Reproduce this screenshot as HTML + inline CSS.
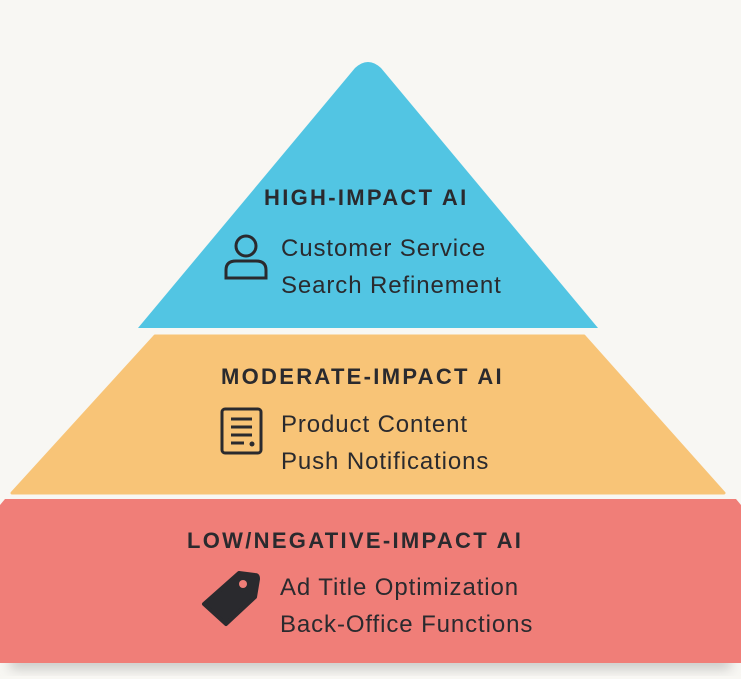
<!DOCTYPE html>
<html><head><meta charset="utf-8"><style>
html,body{margin:0;padding:0;background:#f8f7f3;}
body{width:741px;height:679px;overflow:hidden;position:relative;font-family:"Liberation Sans",sans-serif;color:#2a2a2e;}
svg{position:absolute;left:0;top:0;}
.t{position:absolute;font-weight:bold;font-size:22px;line-height:26px;white-space:nowrap;letter-spacing:2.3px;}
.i{position:absolute;font-size:24px;white-space:nowrap;line-height:37px;letter-spacing:0.9px;}
</style></head><body>
<svg width="741" height="679" viewBox="0 0 741 679">
<defs><filter id="sh" x="-10%" y="-50%" width="120%" height="200%"><feGaussianBlur stdDeviation="6"/></filter></defs>
<rect x="10" y="655" width="721" height="14" fill="#999" opacity="0.5" filter="url(#sh)"/>
<path d="M355,68 Q368,56 381,68 L598,328 L138,328 Z" fill="#52c5e3"/>
<path d="M155,336 L584,336 L724,493 L12,493 Z" fill="#f8c477" stroke="#f8c477" stroke-width="3" stroke-linejoin="round"/>
<path d="M5,499 L736,499 L741,505 L741,663 L0,663 L0,505 Z" fill="#f07e78"/>
<g fill="none" stroke="#2a2a2e" stroke-width="3">
<circle cx="246" cy="246" r="10"/>
<path d="M226,278 L226,270 Q226,261 236,261 L256,261 Q266,261 266,270 L266,278 Z"/>
</g>
<g fill="none" stroke="#2a2a2e" stroke-width="3">
<rect x="222" y="409" width="39" height="44" rx="3"/>
<path d="M231,419 H252 M231,427 H252 M231,435 H252 M231,443 H244"/>
</g>
<circle cx="252" cy="444" r="2.5" fill="#2a2a2e"/>
<path d="M239,573 L255,575 Q258,575 258,579 L255,597 L226,624 L204,604 Z" fill="#2a2a2e" stroke="#2a2a2e" stroke-width="4" stroke-linejoin="round"/>
<circle cx="243" cy="584" r="4" fill="#f07e78"/>
</svg>
<div class="t" style="left:264px;top:185px;">HIGH-IMPACT AI</div>
<div class="i" style="left:281px;top:230px;">Customer Service<br>Search Refinement</div>
<div class="t" style="left:221px;top:364px;">MODERATE-IMPACT AI</div>
<div class="i" style="left:281px;top:406px;">Product Content<br>Push Notifications</div>
<div class="t" style="left:187px;top:528px;">LOW/NEGATIVE-IMPACT AI</div>
<div class="i" style="left:280px;top:569px;">Ad Title Optimization<br>Back-Office Functions</div>
</body></html>
